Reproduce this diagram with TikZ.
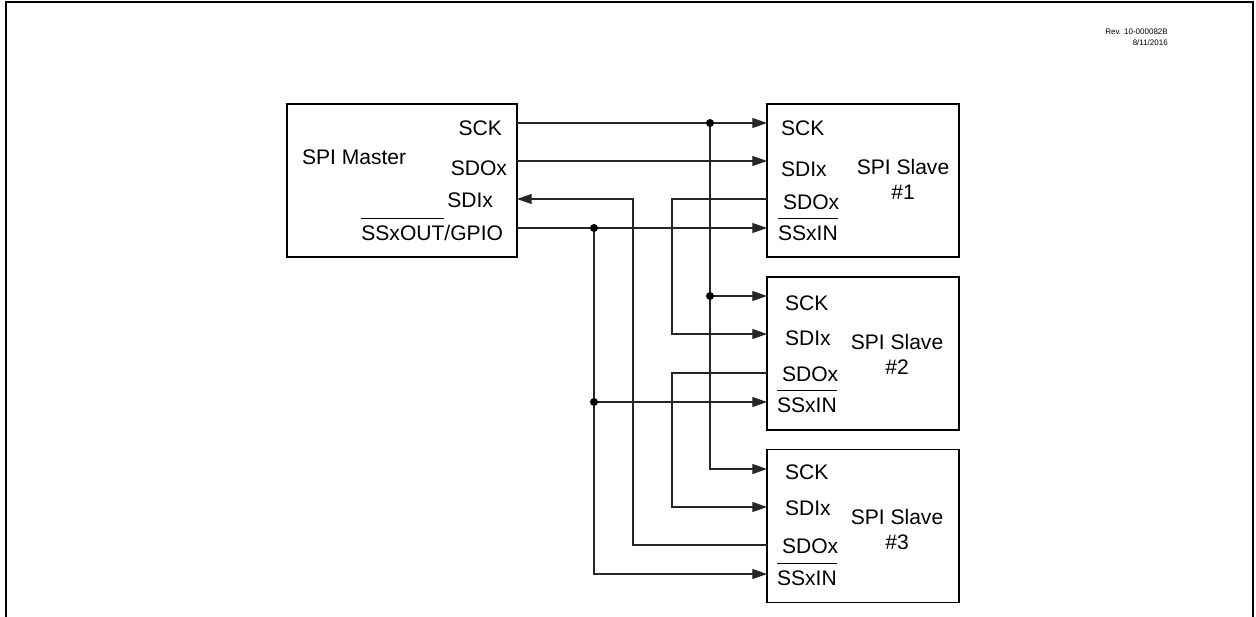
\documentclass[tikz,border=0pt]{standalone}
\usepackage{fontspec}
\setmainfont{Liberation Sans}
\usetikzlibrary{arrows.meta}
\newcommand\olbar[1]{\vbox{\hrule height 0.6pt\kern 5pt\hbox{#1}}}
\begin{document}
\begin{tikzpicture}[x=0.75pt,y=-0.75pt,
  lbl/.style={font=\fontsize{15.8}{18}\selectfont,inner sep=0pt,outer sep=0pt},
  rev/.style={font=\fontsize{6}{7}\selectfont,inner sep=0pt,anchor=base east},
  blk/.style={draw=black,line width=1pt,inner sep=0pt,outer sep=0pt,minimum height=114.75pt},
  wire/.style={line width=0.8pt,draw=black!85},
  sig/.style={wire,-{Triangle[length=11pt,width=7.5pt]}},
  dotj/.style={circle,fill=black,inner sep=0pt,minimum size=6pt}]
\useasboundingbox (0,0) rectangle (1256,617);
\draw[line width=1.6pt] (6,617) -- (6,2) -- (1253,2) -- (1253,617);
\node[rev] (rev1) at (1168,35) {Rev. 10-000082B};
\node[rev] (rev2) at (1168,46) {8/11/2016};
% boxes
\node[blk,minimum width=172.5pt] (master) at (402,180.5) {};
\node[blk,minimum width=144pt] (s1) at (863,180.5) {};
\node[blk,minimum width=144pt] (s2) at (863,353.5) {};
\node[blk,minimum width=144pt] (s3) at (863,526) {};
% master labels
\node[lbl,anchor=base west] (mt) at (302,164) {SPI Master};
\node[lbl,anchor=base east] (msck) at (502,135) {SCK};
\node[lbl,anchor=base east] (msdo) at (507,175) {SDOx};
\node[lbl,anchor=base east] (msdi) at (493,207) {SDIx};
\node[lbl,anchor=base east] (mss) at (503,240) {\olbar{SSxOUT}/GPIO};
% slave 1
\node[lbl,anchor=base west] (a1) at (781,135) {SCK};
\node[lbl,anchor=base west] (b1) at (781,176) {SDIx};
\node[lbl,anchor=base west] (c1) at (783,209) {SDOx};
\node[lbl,anchor=base west] (d1) at (778,240) {\olbar{SSxIN}};
\node[lbl,anchor=base] (t1) at (903,174) {SPI Slave};
\node[lbl,anchor=base] (n1) at (903,199) {\#1};
% slave 2
\node[lbl,anchor=base west] (a2) at (785,310) {SCK};
\node[lbl,anchor=base west] (b2) at (785,345) {SDIx};
\node[lbl,anchor=base west] (c2) at (782,381) {SDOx};
\node[lbl,anchor=base west] (d2) at (777,412) {\olbar{SSxIN}};
\node[lbl,anchor=base] (t2) at (897,349) {SPI Slave};
\node[lbl,anchor=base] (n2) at (897,374) {\#2};
% slave 3
\node[lbl,anchor=base west] (a3) at (785,479) {SCK};
\node[lbl,anchor=base west] (b3) at (785,515) {SDIx};
\node[lbl,anchor=base west] (c3) at (782,553) {SDOx};
\node[lbl,anchor=base west] (d3) at (777,585) {\olbar{SSxIN}};
\node[lbl,anchor=base] (t3) at (897,524) {SPI Slave};
\node[lbl,anchor=base] (n3) at (897,549) {\#3};
% pins
\coordinate (pmsck) at (517,123);
\coordinate (pmsdo) at (517,161);
\coordinate (pmsdi) at (517,199);
\coordinate (pmss) at (517,228);
\coordinate (p1sck) at (767,123);
\coordinate (p1sdi) at (767,161);
\coordinate (p1sdo) at (767,199);
\coordinate (p1ss) at (767,228);
\coordinate (p2sck) at (767,296);
\coordinate (p2sdi) at (767,334);
\coordinate (p2sdo) at (767,373);
\coordinate (p2ss) at (767,402);
\coordinate (p3sck) at (767,469);
\coordinate (p3sdi) at (767,507);
\coordinate (p3sdo) at (767,545);
\coordinate (p3ss) at (767,574);
% junctions
\coordinate (jsck1) at (710,123);
\coordinate (jsck2) at (710,296);
\coordinate (jss1) at (594,228);
\coordinate (jss2) at (594,402);
% wires
\draw[sig] (pmsck) -- (p1sck);
\draw[sig] (jsck1) -- (jsck1 |- p3sck) -- (p3sck);
\draw[sig] (jsck2) -- (p2sck);
\draw[sig] (pmsdo) -- (p1sdi);
\draw[sig] (p3sdo) -- (633,545) -- (633,199) -- (pmsdi);
\draw[sig] (pmss) -- (p1ss);
\draw[sig] (jss1) -- (jss1 |- p3ss) -- (p3ss);
\draw[sig] (jss2) -- (p2ss);
\draw[sig] (p1sdo) -- (672,199) -- (672,334) -- (p2sdi);
\draw[sig] (p2sdo) -- (672,373) -- (672,507) -- (p3sdi);
\node[dotj] (d-a) at (jsck1) {};
\node[dotj] (d-b) at (jsck2) {};
\node[dotj] (d-c) at (jss1) {};
\node[dotj] (d-d) at (jss2) {};
\end{tikzpicture}
\end{document}
